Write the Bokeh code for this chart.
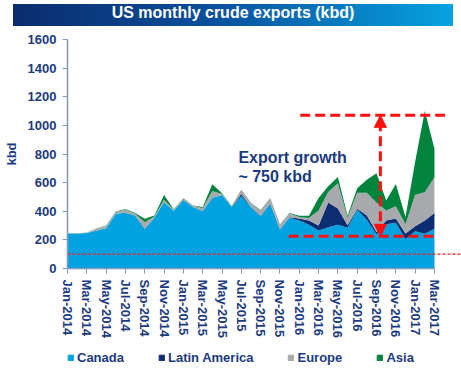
from bokeh.plotting import figure
from bokeh.models import (ColumnDataSource, Range1d, FixedTicker, Span, Legend,
                          LegendItem, Arrow, NormalHead, Div)
from bokeh.layouts import column
from bokeh.embed import file_html
from bokeh.resources import INLINE
from bokeh.core.properties import value

months = ["Jan-2014", "Feb-2014", "Mar-2014", "Apr-2014", "May-2014", "Jun-2014",
          "Jul-2014", "Aug-2014", "Sep-2014", "Oct-2014", "Nov-2014", "Dec-2014",
          "Jan-2015", "Feb-2015", "Mar-2015", "Apr-2015", "May-2015", "Jun-2015",
          "Jul-2015", "Aug-2015", "Sep-2015", "Oct-2015", "Nov-2015", "Dec-2015",
          "Jan-2016", "Feb-2016", "Mar-2016", "Apr-2016", "May-2016", "Jun-2016",
          "Jul-2016", "Aug-2016", "Sep-2016", "Oct-2016", "Nov-2016", "Dec-2016",
          "Jan-2017", "Feb-2017", "Mar-2017"]

canada = [245, 245, 248, 266, 282, 383, 390, 371, 278, 354, 464, 401, 478, 429, 401,
          494, 513, 429, 506, 429, 365, 452, 272, 354, 336, 305, 266, 288, 305, 285,
          410, 340, 240, 310, 320, 205, 260, 242, 277]
latin_america = [0, 0, 0, 0, 0, 0, 0, 0, 0, 0, 0, 0, 0, 0, 0, 0, 0, 0, 14, 3, 3, 3, 3,
                 4, 14, 31, 35, 174, 115, 18, 7, 30, 15, 25, 30, 40, 35, 93, 110]
europe = [0, 2, 4, 12, 16, 12, 23, 12, 46, 10, 17, 9, 9, 9, 21, 47, 7, 5, 30, 23, 38,
          35, 34, 27, 10, 16, 104, 73, 175, 52, 113, 160, 205, 70, 85, 65, 220, 198, 251]
asia = [0, 0, 0, 2, 2, 3, 2, 5, 23, 6, 32, 4, 3, 2, 7, 47, 5, 2, 2, 2, 2, 2, 1, 2, 8,
        16, 88, 40, 45, 13, 30, 90, 205, 70, 155, 50, 230, 567, 198]

series_names = ["Canada", "Latin America", "Europe", "Asia"]
series_keys = ["canada", "latin_america", "europe", "asia"]
series_colors = ["#00a3e0", "#0c2d72", "#a7a9ac", "#00843d"]

y_ticks = [0, 200, 400, 600, 800, 1000, 1200, 1400, 1600]

# annotation levels (kbd) and position of the growth arrow (month index)
annot_low = 225
annot_high = 1070
arrow_x = 32.4
note_lines = ["Export growth", "~ 750 kbd"]
note_y = [776, 643]
note_x = 17.7

NAVY = "#1b3a80"
AXIS = "#8197bb"
FONT = "Liberation Sans"

src = ColumnDataSource(dict(x=list(range(len(months))), canada=canada,
                            latin_america=latin_america, europe=europe, asia=asia))

p = figure(width=461, height=324, x_range=Range1d(0, 40.8), y_range=Range1d(0, 1600),
           output_backend="svg", toolbar_location=None,
           min_border_left=67, min_border_right=0, min_border_top=13, min_border_bottom=82)
p.outline_line_color = None
p.xgrid.visible = False
p.ygrid.visible = False

rs = p.varea_stack(series_keys, x="x", color=series_colors, source=src)

# reference lines
p.add_layout(Span(location=100, dimension="width", line_color="#ff1a1a",
                  line_dash="3 2", line_width=1.2))
p.segment(x0=[24.1, 22.9], y0=[annot_high, annot_low], x1=[39.1, 37.9], y1=[annot_high, annot_low],
          line_color="#ff1010", line_width=3, line_dash="10 5")
p.add_layout(Arrow(x_start=arrow_x, y_start=annot_low, x_end=arrow_x, y_end=annot_high,
                   line_color="#ff1010", line_width=3, line_dash="10 5",
                   start=NormalHead(size=12, fill_color="#ff1010", line_color="#ff1010"),
                   end=NormalHead(size=12, fill_color="#ff1010", line_color="#ff1010")))

p.text(x=[note_x, note_x], y=note_y, text=note_lines, text_font=value(FONT),
       text_font_style="bold", text_font_size="16px", text_color=NAVY,
       text_baseline="middle", text_align="left")

# axes
p.xaxis.ticker = FixedTicker(ticks=list(range(0, len(months), 2)))
p.xaxis.major_label_overrides = {i: months[i] for i in range(0, len(months), 2)}
p.xaxis.major_label_orientation = "vertical"
p.xaxis.bounds = (0, len(months) - 1)
p.yaxis.ticker = FixedTicker(ticks=y_ticks)
p.yaxis.axis_label = "kbd"
for ax in (p.xaxis[0], p.yaxis[0]):
    ax.axis_line_color = AXIS
    ax.axis_line_width = 1.5
    ax.major_tick_line_color = AXIS
    ax.major_tick_in = 0
    ax.major_tick_out = 5
    ax.minor_tick_line_color = None
    ax.major_label_text_font = FONT
    ax.major_label_text_font_style = "bold"
    ax.major_label_text_font_size = "13px"
    ax.major_label_text_color = NAVY
    ax.major_label_standoff = 6
p.yaxis.axis_label_text_font = FONT
p.yaxis.axis_label_text_font_style = "bold"
p.yaxis.axis_label_text_font_size = "13px"
p.yaxis.axis_label_text_color = NAVY
p.yaxis.axis_label_standoff = 6

# legend strip (own small figure so the legend sits freely under the axis labels)
lg = figure(width=461, height=26, x_range=Range1d(0, 1), y_range=Range1d(0, 1),
            x_axis_type=None, y_axis_type=None,
            output_backend="svg", toolbar_location=None, min_border=0)
lg.outline_line_color = None
lg.grid.visible = False
lrs = [lg.rect(x=[-5], y=[-5], width=1, height=1, color=c) for c in series_colors]
legend = Legend(items=[LegendItem(label=n, renderers=[r]) for n, r in zip(series_names, lrs)],
                orientation="horizontal", location=(0, 11), spacing=34,
                label_width=45, label_height=14, glyph_width=7, glyph_height=7,
                label_standoff=3, padding=0, margin=0, border_line_color=None,
                background_fill_alpha=0, label_text_font=FONT,
                label_text_font_style="bold", label_text_font_size="13px",
                label_text_color=NAVY)
lg.add_layout(legend)

title = Div(text='<div style="width:440px;height:22px;line-height:22px;'
                 'background:linear-gradient(90deg,#0b2c6c 0%,#0a4f9c 45%,#06a2e0 100%);'
                 'color:#ffffff;font:bold 16px \'Liberation Sans\',Arial,sans-serif;'
                 'text-align:center;">US monthly crude exports (kbd)</div>',
            width=440, height=22, margin=(4, 0, 0, 13))

layout = column(title, p, lg, spacing=0)
open("out.html", "w").write(file_html(layout, INLINE))
